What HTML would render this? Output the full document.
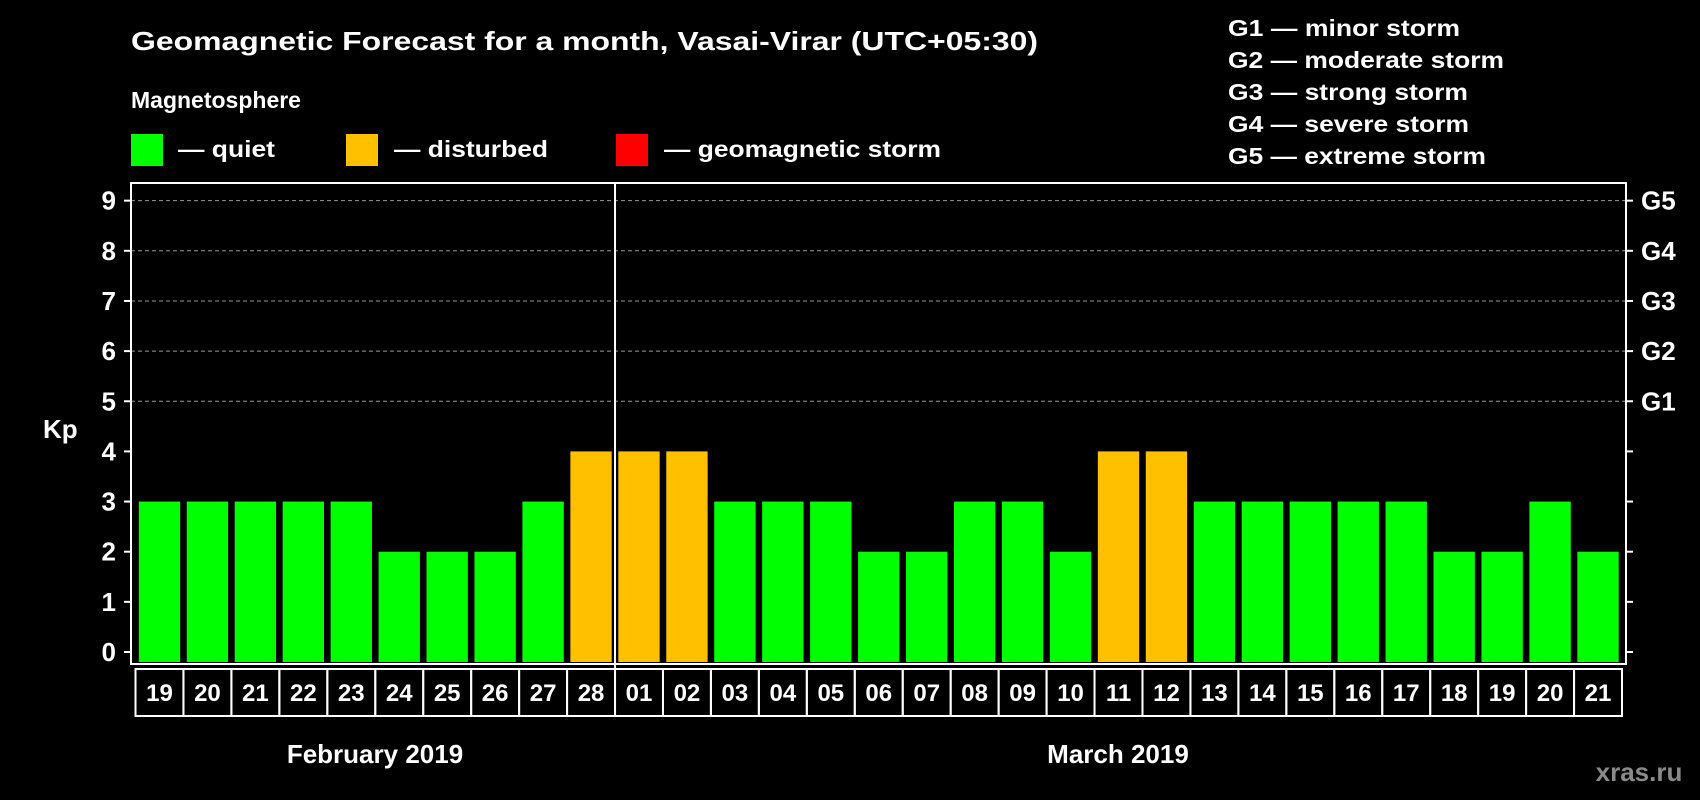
<!DOCTYPE html>
<html><head><meta charset="utf-8"><style>
html,body{margin:0;padding:0;background:#000;}
svg{display:block;font-family:"Liberation Sans",Arial,sans-serif;font-weight:bold;}
</style></head><body>
<svg id="chart" width="1700" height="800" viewBox="0 0 1700 800">
<text x="131" y="50" font-size="26" fill="#fff" textLength="907" lengthAdjust="spacingAndGlyphs">Geomagnetic Forecast for a month, Vasai-Virar (UTC+05:30)</text>
<text x="131" y="108" font-size="23" fill="#fff">Magnetosphere</text>
<g>
<rect x="131" y="134" width="32" height="32" fill="#00ff00"/>
<text x="178" y="157" font-size="23" fill="#fff" textLength="97" lengthAdjust="spacingAndGlyphs">— quiet</text></g>
<g>
<rect x="346" y="134" width="32" height="32" fill="#ffc000"/>
<text x="394" y="157" font-size="23" fill="#fff" textLength="154" lengthAdjust="spacingAndGlyphs">— disturbed</text></g>
<g>
<rect x="616" y="134" width="32" height="32" fill="#ff0000"/>
<text x="664" y="157" font-size="23" fill="#fff" textLength="277" lengthAdjust="spacingAndGlyphs">— geomagnetic storm</text></g>
<g font-size="23" fill="#fff">
<text x="1228" y="36" textLength="232" lengthAdjust="spacingAndGlyphs">G1 — minor storm</text>
<text x="1228" y="68" textLength="276" lengthAdjust="spacingAndGlyphs">G2 — moderate storm</text>
<text x="1228" y="100" textLength="240" lengthAdjust="spacingAndGlyphs">G3 — strong storm</text>
<text x="1228" y="132" textLength="241" lengthAdjust="spacingAndGlyphs">G4 — severe storm</text>
<text x="1228" y="164" textLength="258" lengthAdjust="spacingAndGlyphs">G5 — extreme storm</text>
</g>
<text x="43" y="438" font-size="26" fill="#fff">Kp</text>
<g id="plot"></g>
<text x="375" y="763" font-size="26" fill="#fff" text-anchor="middle">February 2019</text>
<text x="1118" y="763" font-size="26" fill="#fff" text-anchor="middle">March 2019</text>
<text x="1639" y="781" font-size="26" fill="#8a8a8a" text-anchor="middle">xras.ru</text>
</svg>
<script>
const days = ["19","20","21","22","23","24","25","26","27","28","01","02","03","04","05","06","07","08","09","10","11","12","13","14","15","16","17","18","19","20","21"];
const kpValues = [3,3,3,3,3,2,2,2,3,4,4,4,3,3,3,2,2,3,3,2,4,4,3,3,3,3,3,2,2,3,2];
const yTicks = [0,1,2,3,4,5,6,7,8,9];
const gLabels = ["G1","G2","G3","G4","G5"];
const monthSplit = 10;

const NS="http://www.w3.org/2000/svg";
const g=document.getElementById('plot');
const L=131,R=1626,T=183,B=664,slotL=135.5,slotW=(1622-135.5)/31;
const y=v=>652-v*50.15;
const x=i=>slotL+i*slotW;
function mk(t,a){const e=document.createElementNS(NS,t);for(const k in a)e.setAttribute(k,a[k]);g.appendChild(e);return e;}
// grid
yTicks.forEach(v=>{
  if(v>=5){const l=mk('line',{x1:L,x2:R,y1:y(v),y2:y(v),stroke:'#999','stroke-width':1,'stroke-dasharray':'4,3'});
  
  }
  const t1=mk('line',{x1:L-7,x2:L,y1:y(v),y2:y(v),stroke:'#fff','stroke-width':2});
  
  
  const t2=mk('line',{x1:R,x2:R+7,y1:y(v),y2:y(v),stroke:'#fff','stroke-width':2});
  
  
  const tx=mk('text',{x:116,y:y(v)+9,'font-size':26,fill:'#fff','text-anchor':'end'});tx.textContent=v;
  
  
});
gLabels.forEach((s,i)=>{const t=mk('text',{x:1641,y:y(5+i)+9,'font-size':26,fill:'#fff'});t.textContent=s;
  
  });
// bars
kpValues.forEach((v,i)=>{const r=mk('rect',{x:x(i)+3.3,y:y(v),width:slotW-6.6,height:B-y(v)-2,fill:v>=5?'#ff0000':(v>=4?'#ffc000':'#00ff00')});
  
  });
// frame
const fr=mk('path',{d:`M${L},${B} L${L},${T} L${R},${T} L${R},${B} Z`,fill:'none',stroke:'#fff','stroke-width':2});


const dv=mk('line',{x1:x(monthSplit),x2:x(monthSplit),y1:T,y2:716,stroke:'#fff','stroke-width':2});


// date boxes
days.forEach((d,i)=>{const r=mk('rect',{x:x(i),y:669,width:slotW,height:47,fill:'none',stroke:'#fff','stroke-width':2});
  
  
  const t=mk('text',{x:x(i)+slotW/2,y:701,'font-size':24,fill:'#fff','text-anchor':'middle'});t.textContent=d;
  
  });
</script>
</body></html>
